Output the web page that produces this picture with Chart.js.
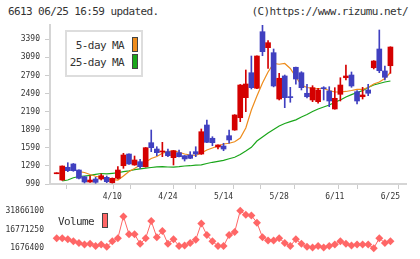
<!DOCTYPE html>
<html>
<head>
<meta charset="utf-8">
<script src="https://cdn.jsdelivr.net/npm/chart.js@4.4.1/dist/chart.umd.min.js"></script>
<style>
    html, body { margin: 0; padding: 0; background: #fff; }
    #wrap { position: relative; width: 420px; height: 259px; overflow: hidden; font-family: 'DejaVu Sans Mono', monospace; color: #333; }
    .txt { position: absolute; font-size: 11px; letter-spacing: -0.6px; line-height: 12px; white-space: nowrap; }
    #main { position: absolute; left: 0; top: 0; }
    #vol { position: absolute; left: 0; top: 200px; }
    .legend { position: absolute; left: 65px; top: 30px; width: 74px; height: 43px; border: 2px solid #ddd; background: #fff; }
    .sw { position: absolute; width: 4px; height: 13px; border: 1px solid #444; }
</style>
</head>
<body>
<div id="wrap">
    <div class="txt" style="left:8px;top:6px">6613 06/25 16:59 updated.</div>
    <div class="txt" style="right:12px;top:6px">(C)https://www.rizumu.net/</div>
    <canvas id="main" width="420" height="205"></canvas>
    <canvas id="vol" width="420" height="59"></canvas>

    <div class="legend"></div>
    <div class="txt" style="right:296px;top:40px;text-align:right">5-day MA</div>
    <div class="sw" style="left:132px;top:37px;background:#ee8c1c"></div>
    <div class="txt" style="right:296px;top:57px;text-align:right">25-day MA</div>
    <div class="sw" style="left:132px;top:54px;background:#1aa61a"></div>

    <div class="txt" style="left:58px;top:216px">Volume</div>
    <div class="sw" style="left:102px;top:213px;background:#ff6666"></div>
</div>

<script>
// --- Data ---
const dateLabels = ['4/10', '4/24', '5/14', '5/28', '6/11', '6/25'];
const dateLabelIdx = [10, 20, 30, 40, 50, 60];
const priceTicks = [990, 1290, 1590, 1890, 2190, 2490, 2790, 3090, 3390];
const volumeTicks = [1676400, 16771250, 31866100];

const opens = [1160, 1056, 1267, 1322, 1222, 1111, 1023, 1073, 1073, 1101,
    1012, 1085, 1293, 1487, 1305, 1360, 1277, 1675, 1570, 1521,
    1526, 1426, 1509, 1459, 1471, 1526, 1487, 1968, 1748, 1603,
    1620, 1791, 1885, 2089, 2421, 2835, 2577, 3515, 3250, 3167,
    2399, 2781, 2432, 2925, 2835, 2494, 2383, 2355, 2587, 2532,
    2234, 2477, 2752, 2797, 2520, 2437, 2549, 2918, 3228, 2864, 2951];
const closes = [1167, 1288, 1211, 1211, 1085, 1023, 1056, 1018, 1128, 1028,
    1085, 1222, 1471, 1322, 1388, 1277, 1592, 1592, 1509, 1537,
    1459, 1542, 1443, 1405, 1416, 1487, 1857, 1681, 1675, 1637,
    1570, 1720, 2134, 2631, 2648, 2587, 3112, 3184, 3333, 2615,
    2743, 2421, 2422, 2731, 2587, 2437, 2587, 2549, 2570, 2366,
    2411, 2631, 2781, 2615, 2366, 2466, 2494, 3029, 2868, 2759, 3261];
const highs = [1167, 1290, 1343, 1330, 1225, 1115, 1123, 1101, 1156, 1123,
    1090, 1277, 1499, 1490, 1454, 1400, 1595, 1885, 1608, 1681,
    1570, 1545, 1554, 1462, 1526, 1608, 1902, 2051, 1774, 1640,
    1665, 1885, 2140, 2640, 2880, 3112, 3115, 3626, 3366, 3228,
    2825, 2797, 2593, 2930, 2852, 2643, 2620, 2577, 2603, 2603,
    2587, 2752, 2963, 2847, 2537, 2593, 2643, 3035, 3543, 2946, 3265];
const lows = [1160, 1050, 1194, 1200, 1073, 1007, 1015, 1002, 1056, 1012,
    1005, 1075, 1250, 1315, 1300, 1250, 1270, 1526, 1459, 1443,
    1443, 1305, 1440, 1371, 1410, 1443, 1480, 1675, 1625, 1570,
    1542, 1665, 1880, 2023, 2189, 2565, 2570, 3117, 2908, 2600,
    2383, 2255, 2345, 2643, 2549, 2416, 2355, 2328, 2383, 2272,
    2230, 2366, 2714, 2593, 2316, 2399, 2454, 2897, 2835, 2714, 2825];

const ma5 = [null, null, null, null, 1194, 1181, 1148, 1118, 1098, 1073,
    1063, 1056, 1123, 1197, 1247, 1305, 1355, 1413, 1446, 1499,
    1526, 1540, 1516, 1487, 1471, 1463, 1504, 1554, 1587, 1620,
    1653, 1665, 1691, 1753, 1918, 2217, 2449, 2665, 2847, 2988,
    2975, 2988, 2905, 2764, 2631, 2590, 2577, 2573, 2573, 2540,
    2515, 2515, 2524, 2540, 2560, 2560, 2590, 2648, 2681, 2739, 2839];
const ma25 = [null, 1040, 1056, 1093, 1114, 1123, 1134, 1151, 1164, 1159,
    1167, 1176, 1196, 1209, 1227, 1240, 1252, 1264, 1275, 1277,
    1272, 1269, 1277, 1288, 1293, 1302, 1308, 1330, 1350, 1366,
    1383, 1408, 1433, 1479, 1537, 1598, 1703, 1769, 1836, 1894,
    1952, 1993, 2023, 2054, 2101, 2142, 2192, 2234, 2267, 2300,
    2345, 2383, 2432, 2471, 2507, 2537, 2590, 2631, 2656, 2681, 2698];

const volume = [9730000, 9730000, 8970000, 7210000, 5950000, 4700000, 5200000, 3440000, 4700000, 2940000,
    7210000, 9730000, 27340000, 13000000, 13000000, 5200000, 9730000, 23560000, 10490000, 15510000,
    5200000, 8970000, 3440000, 3940000, 5950000, 8470000, 21550000, 12240000, 7210000, 3440000,
    3440000, 12240000, 14760000, 31866100, 28600000, 28100000, 22310000, 10490000, 7970000, 7970000,
    9730000, 5950000, 3440000, 8970000, 5200000, 2940000, 2180000, 3440000, 2180000, 3440000,
    4700000, 7210000, 5200000, 3940000, 4700000, 4700000, 4700000, 1676400, 9730000, 5950000, 7210000];

// --- Look ---
const UP = '#d40000';
const DOWN = '#4040c0';
const X_MIN = -1.2, X_MAX = 62.8;
const AXIS_GREY = '#d5d5d5';

Chart.defaults.font.family = "'DejaVu Sans Mono', monospace";
Chart.defaults.font.size = 8;
Chart.defaults.color = '#333';

const candleColors = opens.map((o, i) => closes[i] >= o ? UP : DOWN);

// evenly spaced tick marks along the bottom axis (decoration only)
const markTicks = [];
for (let k = 0; k <= 11; k++) markTicks.push(X_MIN + k * (X_MAX - X_MIN) / 11);

// --- Price chart ---
new Chart(document.getElementById('main'), {
    type: 'bar',
    data: {
        datasets: [
            {
                label: 'body',
                data: opens.map((o, i) => ({ x: i, y: [Math.min(o, closes[i]), Math.max(o, closes[i])] })),
                backgroundColor: candleColors,
                barThickness: 5,
                minBarLength: 1,
                grouped: false,
                order: 0
            },
            {
                label: 'wick',
                data: lows.map((l, i) => ({ x: i, y: [l, highs[i]] })),
                backgroundColor: candleColors,
                barThickness: 1,
                minBarLength: 1,
                grouped: false,
                order: 1
            },
            {
                type: 'line',
                label: '5-day MA',
                data: ma5.map((v, i) => ({ x: i, y: v })),
                borderColor: '#ee8c1c',
                borderWidth: 1.2,
                pointRadius: 0,
                order: 2
            },
            {
                type: 'line',
                label: '25-day MA',
                data: ma25.map((v, i) => ({ x: i, y: v })),
                borderColor: '#1aa61a',
                borderWidth: 1.2,
                pointRadius: 0,
                order: 3
            }
        ]
    },
    options: {
        responsive: false,
        animation: false,
        events: [],
        layout: { padding: { top: 25, right: 14, left: 0, bottom: 0 } },
        plugins: { legend: { display: false }, tooltip: { enabled: false } },
        scales: {
            x: {
                type: 'linear',
                min: X_MIN,
                max: X_MAX,
                offset: false,
                afterBuildTicks: s => {
                    const t = markTicks.map(v => ({ value: v })).concat(dateLabelIdx.map(v => ({ value: v })));
                    s.ticks = t.sort((a, b) => a.value - b.value);
                },
                afterFit: s => { s.height = 21; },
                grid: {
                    drawOnChartArea: false,
                    tickLength: 5,
                    tickColor: ctx => (ctx.tick && ctx.tick.label === '') ? '#ccc' : 'rgba(0,0,0,0)'
                },
                border: { color: AXIS_GREY, width: 2 },
                ticks: {
                    autoSkip: false,
                    maxRotation: 0,
                    padding: 3,
                    callback: v => {
                        const k = dateLabelIdx.indexOf(v);
                        return k >= 0 ? dateLabels[k] : '';
                    }
                }
            },
            y: {
                min: 990,
                max: 3626,
                afterBuildTicks: s => { s.ticks = priceTicks.map(v => ({ value: v })); },
                afterFit: s => { s.width = 50; },
                grid: { drawOnChartArea: false, tickLength: 5, color: '#ccc' },
                border: { color: AXIS_GREY, width: 2 },
                ticks: { padding: 5, callback: v => String(v) }
            }
        }
    }
});

// --- Volume chart ---
new Chart(document.getElementById('vol'), {
    type: 'line',
    data: {
        datasets: [{
            label: 'Volume',
            data: volume.map((v, i) => ({ x: i, y: v })),
            borderColor: '#ff6666',
            backgroundColor: '#ff6666',
            borderWidth: 1,
            pointStyle: 'rectRot',
            pointRadius: 4,
            pointBorderWidth: 0,
            clip: false
        }]
    },
    options: {
        responsive: false,
        animation: false,
        events: [],
        layout: { padding: { top: 9, bottom: 10, right: 14, left: 0 } },
        plugins: { legend: { display: false }, tooltip: { enabled: false } },
        scales: {
            x: { type: 'linear', min: X_MIN, max: X_MAX, display: false },
            y: {
                min: 1676400,
                max: 31866100,
                afterBuildTicks: s => { s.ticks = volumeTicks.map(v => ({ value: v })); },
                afterFit: s => { s.width = 50; },
                grid: { display: false, drawTicks: false },
                border: { display: false },
                ticks: { padding: 6, callback: v => String(v) }
            }
        }
    }
});
</script>
</body>
</html>
